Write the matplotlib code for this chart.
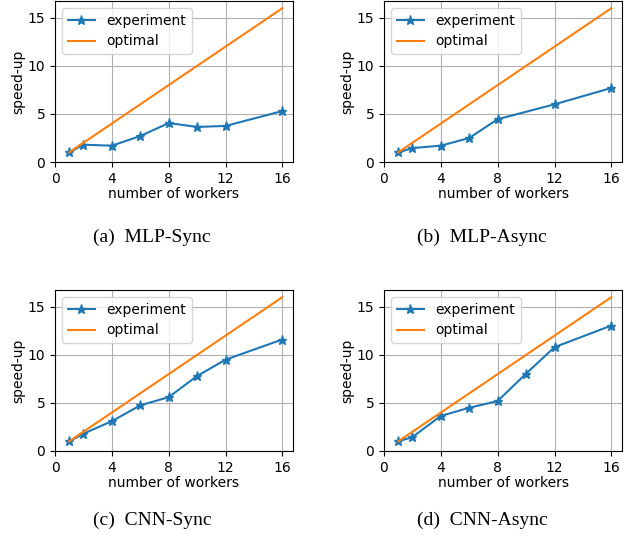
import matplotlib
matplotlib.use("Agg")
import matplotlib.pyplot as plt

# --- Données ---
mlp_sync_x = [1, 2, 4, 6, 8, 10, 12, 16]
mlp_sync_y = [1.0, 1.8, 1.7, 2.7, 4.05, 3.65, 3.75, 5.3]

mlp_async_x = [1, 2, 4, 6, 8, 12, 16]
mlp_async_y = [1.0, 1.45, 1.7, 2.5, 4.45, 6.0, 7.7]

cnn_sync_x = [1, 2, 4, 6, 8, 10, 12, 16]
cnn_sync_y = [1.0, 1.8, 3.1, 4.75, 5.6, 7.8, 9.5, 11.6]

cnn_async_x = [1, 2, 4, 6, 8, 10, 12, 16]
cnn_async_y = [1.0, 1.45, 3.65, 4.5, 5.2, 8.05, 10.8, 13.05]

optimal_x = [1, 16]
optimal_y = [1, 16]

captions = ["(a)  MLP-Sync", "(b)  MLP-Async", "(c)  CNN-Sync", "(d)  CNN-Async"]
xticks = [0, 4, 8, 12, 16]
yticks = [0, 5, 10, 15]

panels = [
    (mlp_sync_x, mlp_sync_y),
    (mlp_async_x, mlp_async_y),
    (cnn_sync_x, cnn_sync_y),
    (cnn_async_x, cnn_async_y),
]

# --- Figure ---
W, H = 631, 539
fig = plt.figure(figsize=(W / 100, H / 100), dpi=100)
plt.rcParams["font.size"] = 10

# positions en pixels: (gauche, haut) des axes
ax_pos = [(55, 1), (384, 1), (55, 290), (384, 290)]
cap_pos = [(152, 237), (482, 237), (152, 520), (482, 520)]
AW, AH = 238, 161

for (xs, ys), (px, py), cap, (cx, cy) in zip(panels, ax_pos, captions, cap_pos):
    ax = fig.add_axes([px / W, 1 - (py + AH) / H, AW / W, AH / H])
    ax.plot(xs, ys, marker="*", color="#1f77b4", label="experiment",
            markersize=6.5, linewidth=1.5)
    ax.plot(optimal_x, optimal_y, color="#ff7f0e", label="optimal", linewidth=1.5)
    ax.set_xlim(0, 16.75)
    ax.set_ylim(0, 16.75)
    ax.set_xticks(xticks)
    ax.set_yticks(yticks)
    ax.tick_params(labelsize=10)
    ax.set_xlabel("number of workers", fontsize=10, labelpad=1)
    ax.set_ylabel("speed-up", fontsize=10, labelpad=1.5)
    ax.grid(True)
    ax.legend(loc="upper left", fontsize=10)
    fig.text(cx / W, 1 - cy / H, cap, ha="center", va="center",
             family="Liberation Serif", fontsize=14)

fig.savefig("out.png", dpi=100)
